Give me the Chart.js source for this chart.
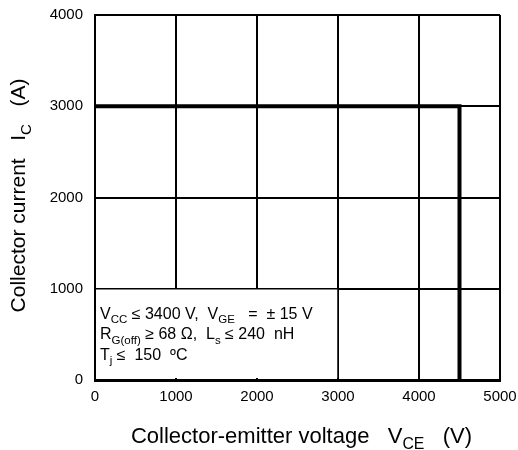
<!DOCTYPE html>
<html>
<head>
<meta charset="utf-8">
<script src="https://cdn.jsdelivr.net/npm/chart.js@4/dist/chart.umd.min.js"></script>
<style>
  html, body { margin: 0; padding: 0; background: #fff; }
  #wrap { width: 518px; height: 450px; position: relative; }
</style>
</head>
<body>
<div id="wrap"><canvas id="soa"></canvas></div>
<script>
// RBSOA boundary
var voltage = [0, 4500, 4500];
var current = [3000, 3000, 0];
var xTicks = [0, 1000, 2000, 3000, 4000, 5000];
var yTicks = [0, 1000, 2000, 3000, 4000];

var FONT = '"Liberation Sans", Arial, sans-serif';

// draw text made of [text, isSub] pieces
function richWidth(ctx, parts, size) {
    var w = 0;
    parts.forEach(function (p) {
        ctx.font = (p[1] ? size * 0.72 : size) + 'px ' + FONT;
        w += ctx.measureText(p[0]).width;
    });
    return w;
}
function drawRich(ctx, parts, x, y, size) {
    parts.forEach(function (p) {
        var s = p[1] ? size * 0.72 : size;
        ctx.font = s + 'px ' + FONT;
        ctx.fillText(p[0], x, p[1] ? y + size * 0.28 : y);
        x += ctx.measureText(p[0]).width;
    });
}

var noteLines = [
    [['V', 0], ['CC', 1], [' \u2264 3400 V,  V', 0], ['GE', 1], ['   =  \u00b1 15 V', 0]],
    [['R', 0], ['G(off)', 1], [' \u2265 68 \u03a9,  L', 0], ['s', 1], [' \u2264 240  nH', 0]],
    [['T', 0], ['j', 1], [' \u2264  150  \u00baC', 0]]
];
var xTitle = [['Collector-emitter voltage   V', 0], ['CE', 1], ['   (V)', 0]];
var yTitle = [['Collector current   I', 0], ['C', 1], ['   (A)', 0]];

// no extra room for tick label overflow, the frame sits where the padding says
function noEdgePad(s) {
    s.paddingTop = 0; s.paddingBottom = 0; s.paddingLeft = 0; s.paddingRight = 0;
}

var decor = {
    id: 'decor',
    beforeDatasetsDraw: function (chart) {
        var ctx = chart.ctx, xs = chart.scales.x, ys = chart.scales.y;
        var x0 = xs.getPixelForValue(0), x1 = xs.getPixelForValue(3000);
        var y0 = ys.getPixelForValue(0), y1 = ys.getPixelForValue(1000);
        ctx.save();
        ctx.fillStyle = '#fff';
        ctx.fillRect(x0 + 1, y1, x1 - x0 - 1, y0 - y1 - 2);
        ctx.strokeStyle = '#000';
        ctx.lineWidth = 1.5;
        ctx.beginPath();
        ctx.moveTo(x0, y1);
        ctx.lineTo(x1, y1);
        ctx.lineTo(x1, y0);
        ctx.stroke();
        ctx.fillStyle = '#000';
        ctx.textBaseline = 'alphabetic';
        noteLines.forEach(function (ln, i) {
            drawRich(ctx, ln, x0 + 5, y1 + 30 + i * 20.5, 16);
        });
        ctx.restore();
    },
    afterDraw: function (chart) {
        var ctx = chart.ctx, a = chart.chartArea;
        ctx.save();
        ctx.fillStyle = '#000';
        ctx.textBaseline = 'alphabetic';
        var w = richWidth(ctx, xTitle, 22);
        drawRich(ctx, xTitle, (a.left + a.right) / 2 + 4 - w / 2, 443, 22);
        ctx.translate(25, (a.top + a.bottom) / 2 - 2);
        ctx.rotate(-Math.PI / 2);
        w = richWidth(ctx, yTitle, 21);
        drawRich(ctx, yTitle, -w / 2, 0, 21);
        ctx.restore();
    }
};

new Chart(document.getElementById('soa'), {
    type: 'line',
    data: {
        datasets: [{
            data: voltage.map(function (v, i) { return { x: v, y: current[i] }; }),
            borderColor: '#000',
            borderWidth: 4,
            pointRadius: 0,
            fill: false,
            tension: 0
        }]
    },
    options: {
        responsive: true,
        maintainAspectRatio: false,
        animation: false,
        events: [],
        layout: { padding: { left: 0, top: 15, right: 18, bottom: 0 } },
        plugins: { legend: { display: false }, tooltip: { enabled: false } },
        scales: {
            x: {
                type: 'linear', min: 0, max: 5000,
                afterFit: function (s) { s.height = 70; noEdgePad(s); },
                afterBuildTicks: function (s) { s.ticks = xTicks.map(function (v) { return { value: v }; }); },
                grid: { color: '#000', lineWidth: 2, drawTicks: false },
                border: { color: '#000', width: 3 },
                ticks: {
                    color: '#000', padding: 8, maxRotation: 0,
                    font: { family: FONT, size: 15 },
                    callback: function (v) { return String(v); }
                }
            },
            y: {
                type: 'linear', min: 0, max: 4000,
                afterFit: function (s) { s.width = 95; noEdgePad(s); },
                afterBuildTicks: function (s) { s.ticks = yTicks.map(function (v) { return { value: v }; }); },
                grid: { color: '#000', lineWidth: 2, drawTicks: false },
                border: { color: '#000', width: 2 },
                ticks: {
                    color: '#000', padding: 12,
                    font: { family: FONT, size: 15 },
                    callback: function (v) { return String(v); }
                }
            }
        }
    },
    plugins: [decor]
});
</script>
</body>
</html>
